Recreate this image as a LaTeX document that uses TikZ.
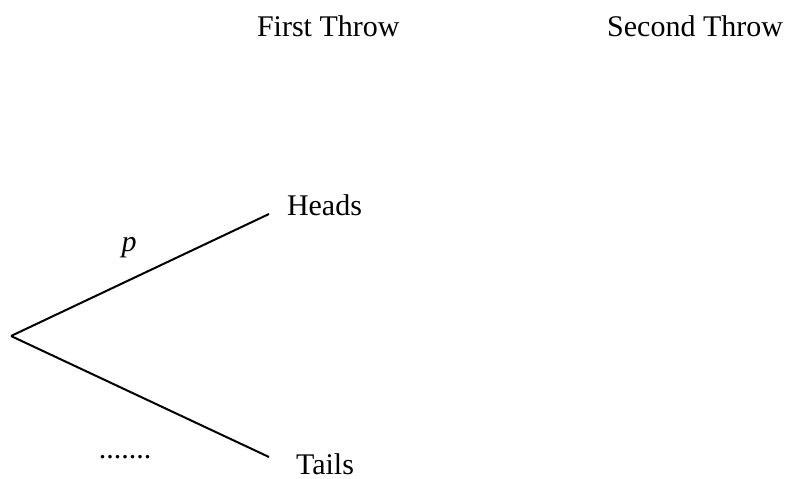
\documentclass[tikz,border=0pt]{standalone}
\usepackage{fontspec}
\setmainfont{Liberation Serif}
\begin{document}
\begin{tikzpicture}[x=1pt,y=-1pt,
  lbl/.style={inner sep=0pt,outer sep=0pt,font=\fontsize{30}{36}\selectfont},
  branch/.style={line width=2pt}]
\useasboundingbox (0,0) rectangle (788,479);
\node[lbl,anchor=base west] (first) at (257,36) {First Throw};
\node[lbl,anchor=base east] (second) at (783,36) {Second Throw};
\coordinate (root) at (11,336);
\coordinate (hE) at (269,214);
\coordinate (tE) at (269,457);
\draw[branch] (root) -- (hE);
\draw[branch] (root) -- (tE);
\node[lbl,anchor=base west] (heads) at (287,215) {Heads};
\node[lbl,anchor=base west] (tails) at (296,474) {Tails};
\node[lbl,anchor=base] (p) at (129,251) {\itshape p};
\node[lbl,anchor=base] (dots) at (125,458) {.......};
\end{tikzpicture}
\end{document}
